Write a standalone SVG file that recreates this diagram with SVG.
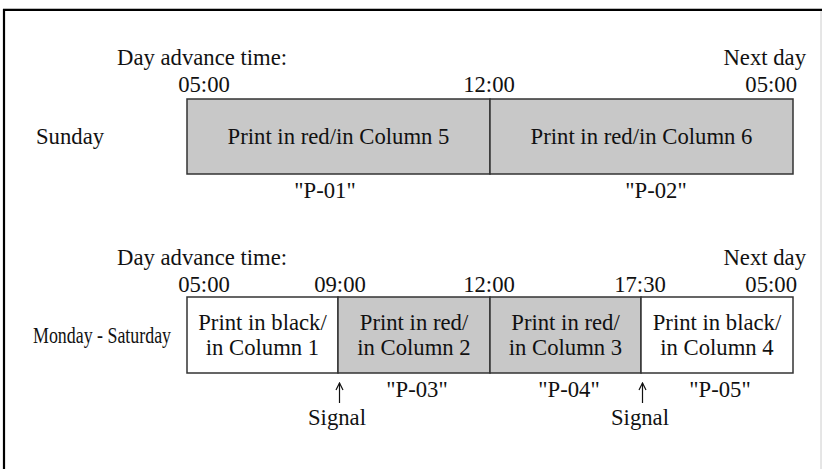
<svg xmlns="http://www.w3.org/2000/svg" width="822" height="469" viewBox="0 0 822 469">
<style>
text{font-family:"Liberation Serif","Times New Roman",serif;font-size:22.7px;fill:#111}
.m{text-anchor:middle}
.e{text-anchor:end}
.g{fill:#c8c8c8;stroke:#333;stroke-width:1.5}
.w{fill:#fff;stroke:#333;stroke-width:1.5}
.arr{stroke:#111;stroke-width:1.2;fill:none}
</style>
<defs>
<marker id="ah" viewBox="0 0 10 10" refX="9" refY="5" markerWidth="10" markerHeight="10" orient="auto" markerUnits="userSpaceOnUse">
<path d="M2,1.5 L9,5 L2,8.5" fill="none" stroke="#111" stroke-width="1.2"/>
</marker>
</defs>
<g id="frame">
<line x1="3" y1="8.5" x2="822" y2="8.5" stroke="#bbb" stroke-width="1"/>
<line x1="3" y1="10" x2="822" y2="10" stroke="#000" stroke-width="2.2"/>
<line x1="4" y1="9" x2="4" y2="469" stroke="#000" stroke-width="2.2"/>
<line x1="821" y1="11" x2="821" y2="469" stroke="#ccc" stroke-width="1"/>
</g>
<g id="sunday">
<text x="117" y="65">Day advance time:</text>
<text x="806" y="65" class="e">Next day</text>
<text x="204" y="92" class="m">05:00</text>
<text x="489" y="92" class="m">12:00</text>
<text x="797" y="92" class="e">05:00</text>
<text x="36" y="144">Sunday</text>
<g id="cell5"><rect x="187" y="99" width="303" height="75" class="g"/><text x="338.5" y="144" class="m">Print in red/in Column 5</text></g>
<g id="cell6"><rect x="490" y="99" width="303" height="75" class="g"/><text x="641.5" y="144" class="m">Print in red/in Column 6</text></g>
<text x="325" y="198" class="m">"P-01"</text>
<text x="656" y="198" class="m">"P-02"</text>
</g>
<g id="weekday">
<text x="117" y="265">Day advance time:</text>
<text x="806" y="265" class="e">Next day</text>
<text x="204" y="292" class="m">05:00</text>
<text x="340" y="292" class="m">09:00</text>
<text x="489" y="292" class="m">12:00</text>
<text x="640" y="292" class="m">17:30</text>
<text x="797" y="292" class="e">05:00</text>
<text x="33" y="343" textLength="138" lengthAdjust="spacingAndGlyphs" style="font-size:24px">Monday - Saturday</text>
<g id="cell1"><rect x="187" y="297" width="151" height="76" class="w"/><text x="262.5" y="330" class="m">Print in black/</text><text x="262.5" y="355" class="m">in Column 1</text></g>
<g id="cell2"><rect x="338" y="297" width="152" height="76" class="g"/><text x="414" y="330" class="m">Print in red/</text><text x="414" y="355" class="m">in Column 2</text></g>
<g id="cell3"><rect x="490" y="297" width="151" height="76" class="g"/><text x="565.5" y="330" class="m">Print in red/</text><text x="565.5" y="355" class="m">in Column 3</text></g>
<g id="cell4"><rect x="641" y="297" width="152" height="76" class="w"/><text x="717" y="330" class="m">Print in black/</text><text x="717" y="355" class="m">in Column 4</text></g>
<text x="417" y="397" class="m">"P-03"</text>
<text x="569" y="397" class="m">"P-04"</text>
<text x="720" y="397" class="m">"P-05"</text>
<text x="337" y="425" class="m">Signal</text>
<text x="640" y="425" class="m">Signal</text>
</g>
<g id="connectors">
<line x1="339.5" y1="403" x2="339.5" y2="383" class="arr" marker-end="url(#ah)"/>
<line x1="642.5" y1="403" x2="642.5" y2="383" class="arr" marker-end="url(#ah)"/>
</g>
</svg>
